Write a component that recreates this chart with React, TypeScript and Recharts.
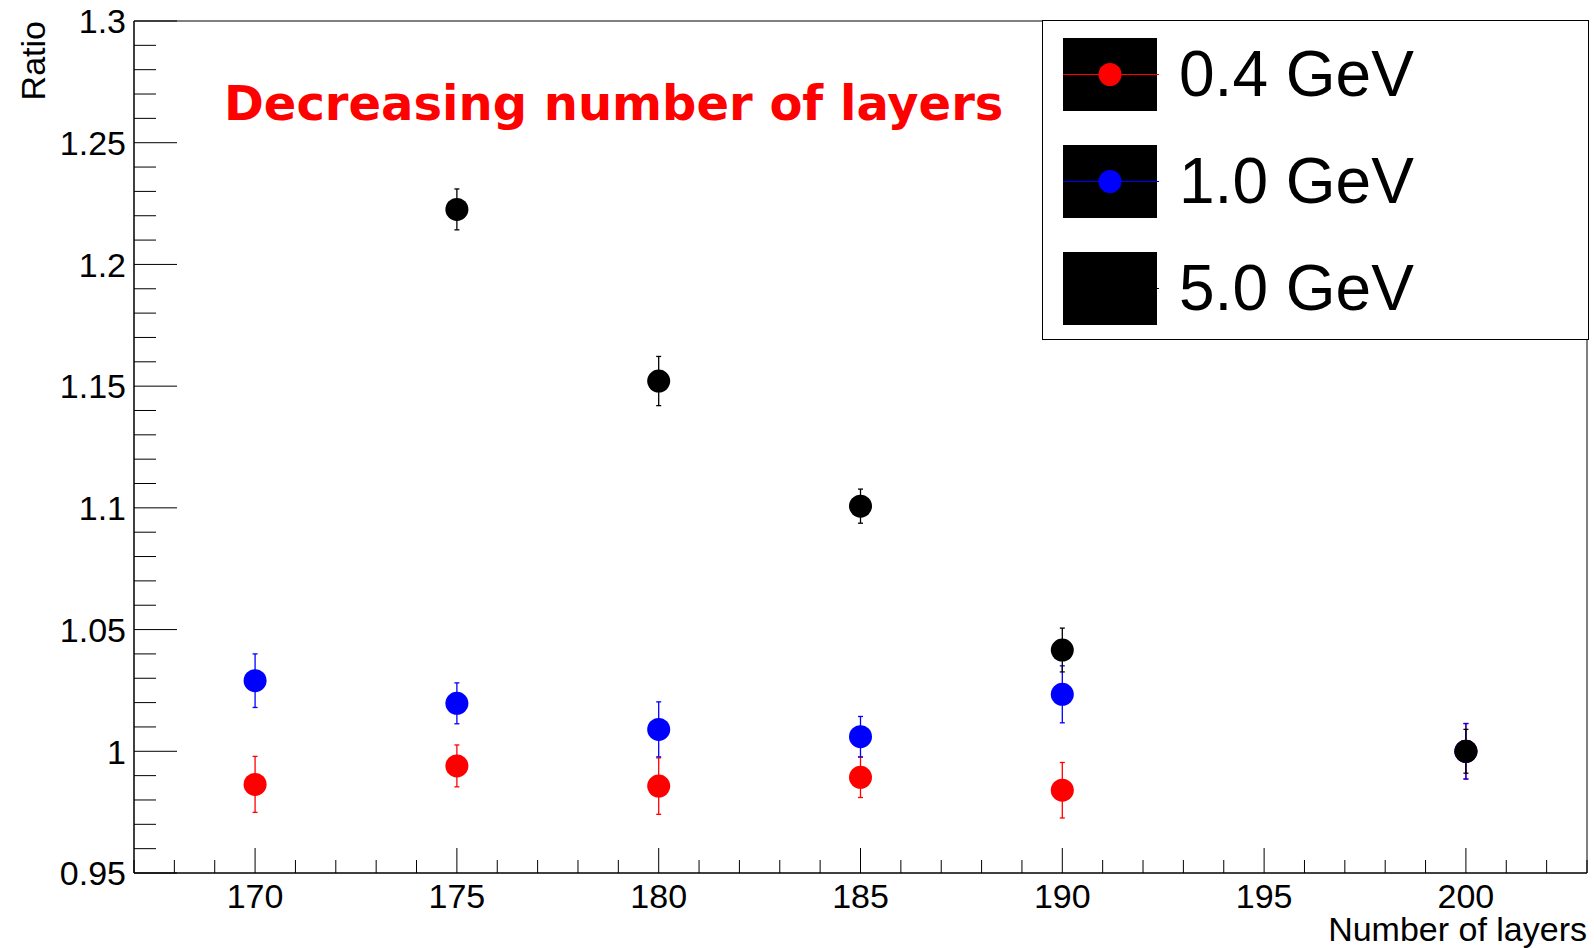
import { ScatterChart, Scatter, XAxis, YAxis, ErrorBar, Legend, ReferenceArea } from 'recharts';

// Ratio vs number of layers, three beam energies.
const layers = [170, 175, 180, 185, 190, 200];

const ratio04 = [0.9864, 0.994, 0.9857, 0.9893, 0.984, 1.0];
const err04 = [0.0115, 0.0086, 0.0116, 0.0083, 0.0114, 0.0114];

const ratio10 = [1.029, 1.0197, 1.009, 1.006, 1.0234, 1.0];
const err10 = [0.011, 0.0084, 0.0113, 0.0083, 0.0117, 0.0114];

// no 5.0 GeV point at 170 layers
const layers50 = [175, 180, 185, 190, 200];
const ratio50 = [1.2226, 1.1521, 1.1007, 1.0416, 1.0];
const err50 = [0.0084, 0.0101, 0.007, 0.009, 0.009];

const seriesNames = ['0.4 GeV', '1.0 GeV', '5.0 GeV'];
const seriesColors = ['#ff0000', '#0000ff', '#000000'];

const xTicks = [167, 168, 169, 170, 171, 172, 173, 174, 175, 176, 177, 178, 179, 180, 181, 182, 183, 184, 185, 186, 187, 188, 189, 190, 191, 192, 193, 194, 195, 196, 197, 198, 199, 200, 201, 202, 203];
const xTickLabels = ['170', '175', '180', '185', '190', '195', '200'];
const yTickLabels = ['0.95', '1', '1.05', '1.1', '1.15', '1.2', '1.25', '1.3'];
const yTicks = Array.from({ length: 36 }, (_, i) => (95 + i) / 100);

const W = 1594;
const H = 948;
const FONT = '"Liberation Sans", Arial, Helvetica, sans-serif';
const LABEL_SIZE = 34;

const toRows = (xs: number[], ys: number[], es: number[]) =>
  xs.map((x, i) => ({ x, y: ys[i], err: es[i] }));

const data04 = toRows(layers, ratio04, err04);
const data10 = toRows(layers, ratio10, err10);
const data50 = toRows(layers50, ratio50, err50);

const Dot = (color: string) => (props: any) => {
  const { cx, cy } = props;
  if (cx == null || cy == null) return <g />;
  return <circle cx={cx} cy={cy} r={11.5} fill={color} />;
};

function XTick(props: any) {
  const { x, y, payload } = props;
  const label = String(payload.value);
  const major = xTickLabels.includes(label);
  return (
    <g>
      <line x1={x} x2={x} y1={y} y2={y - (major ? 25 : 13)} stroke="#000" strokeWidth={1} />
      {major && (
        <text x={x} y={y + 35} textAnchor="middle" fontSize={LABEL_SIZE} fontFamily={FONT} fill="#000">
          {label}
        </text>
      )}
    </g>
  );
}

function YTick(props: any) {
  const { x, y, payload } = props;
  const label = String(Number(payload.value.toFixed(2)));
  const major = yTickLabels.includes(label);
  return (
    <g>
      <line x1={x} x2={x + (major ? 43 : 22)} y1={y} y2={y} stroke="#000" strokeWidth={1} />
      {major && (
        <text x={x - 8} y={y} dy="0.36em" textAnchor="end" fontSize={LABEL_SIZE} fontFamily={FONT} fill="#000">
          {label}
        </text>
      )}
    </g>
  );
}

// ROOT-style legend box with black swatches
function LegendBox(props: any) {
  const { payload } = props;
  return (
    <div
      style={{
        width: 547,
        height: 320,
        boxSizing: 'border-box',
        border: '1px solid #000',
        background: '#fff',
        position: 'relative',
      }}
    >
      {(payload || []).map((entry: any, i: number) => {
        const top = 17 + i * 107;
        return (
          <div key={entry.value} style={{ position: 'absolute', left: 0, top, width: 545, height: 73 }}>
            <svg width={120} height={73} style={{ position: 'absolute', left: 20, top: 0 }}>
              <rect x={0} y={0} width={94} height={73} fill="#000" />
              <line x1={0} x2={96} y1={36.5} y2={36.5} stroke={entry.color} strokeWidth={1} />
              <circle cx={47} cy={36.5} r={11.5} fill={entry.color} />
            </svg>
            <div
              style={{
                position: 'absolute',
                left: 136,
                top: 0,
                height: 73,
                lineHeight: '73px',
                fontSize: 64,
                fontFamily: FONT,
                color: '#000',
                whiteSpace: 'nowrap',
              }}
            >
              {entry.value}
            </div>
          </div>
        );
      })}
    </div>
  );
}

export default function App() {
  return (
    <div style={{ position: 'absolute', left: 0, top: 0, width: W, height: H, background: '#fff' }}>
      <ScatterChart width={W} height={H} margin={{ top: 21, right: 7, bottom: 0, left: 0 }}>
        <XAxis
          type="number"
          dataKey="x"
          domain={[167, 203]}
          ticks={xTicks}
          interval={0}
          allowDataOverflow
          height={75}
          tickSize={0}
          tickMargin={0}
          tickLine={false}
          axisLine={{ stroke: '#000', strokeWidth: 1 }}
          tick={<XTick />}
        />
        <YAxis
          type="number"
          dataKey="y"
          domain={[0.95, 1.3]}
          ticks={yTicks}
          interval={0}
          allowDataOverflow
          width={134}
          tickSize={0}
          tickMargin={0}
          tickLine={false}
          axisLine={{ stroke: '#000', strokeWidth: 1 }}
          tick={<YTick />}
        />
        <ReferenceArea x1={167} x2={203} y1={0.95} y2={1.3} fill="none" stroke="#000" strokeWidth={1} ifOverflow="visible" />
        <Scatter name={seriesNames[0]} data={data04} fill={seriesColors[0]} shape={Dot(seriesColors[0])} isAnimationActive={false}>
          <ErrorBar dataKey="err" direction="y" width={2.5} stroke={seriesColors[0]} strokeWidth={1.3} isAnimationActive={false} />
        </Scatter>
        <Scatter name={seriesNames[1]} data={data10} fill={seriesColors[1]} shape={Dot(seriesColors[1])} isAnimationActive={false}>
          <ErrorBar dataKey="err" direction="y" width={2.5} stroke={seriesColors[1]} strokeWidth={1.3} isAnimationActive={false} />
        </Scatter>
        <Scatter name={seriesNames[2]} data={data50} fill={seriesColors[2]} shape={Dot(seriesColors[2])} isAnimationActive={false}>
          <ErrorBar dataKey="err" direction="y" width={2.5} stroke={seriesColors[2]} strokeWidth={1.3} isAnimationActive={false} />
        </Scatter>
        <Legend
          layout="vertical"
          align="center"
          verticalAlign="middle"
          content={<LegendBox />}
          wrapperStyle={{ position: 'absolute', left: 1042, top: 20, width: 547, height: 320 }}
        />
      </ScatterChart>
      <svg width={W} height={H} style={{ position: 'absolute', left: 0, top: 0, pointerEvents: 'none' }}>
        <text x={224} y={120} fontSize={48} fontWeight="bold" fontFamily='"DejaVu Sans", sans-serif' fill="#ff0000">
          Decreasing number of layers
        </text>
        <text x={1587} y={941} textAnchor="end" fontSize={LABEL_SIZE} fontFamily={FONT} fill="#000">
          Number of layers
        </text>
        <text
          transform="translate(45, 21) rotate(-90)"
          x={0}
          y={0}
          textAnchor="end"
          fontSize={LABEL_SIZE}
          fontFamily={FONT}
          fill="#000"
        >
          Ratio
        </text>
      </svg>
    </div>
  );
}
